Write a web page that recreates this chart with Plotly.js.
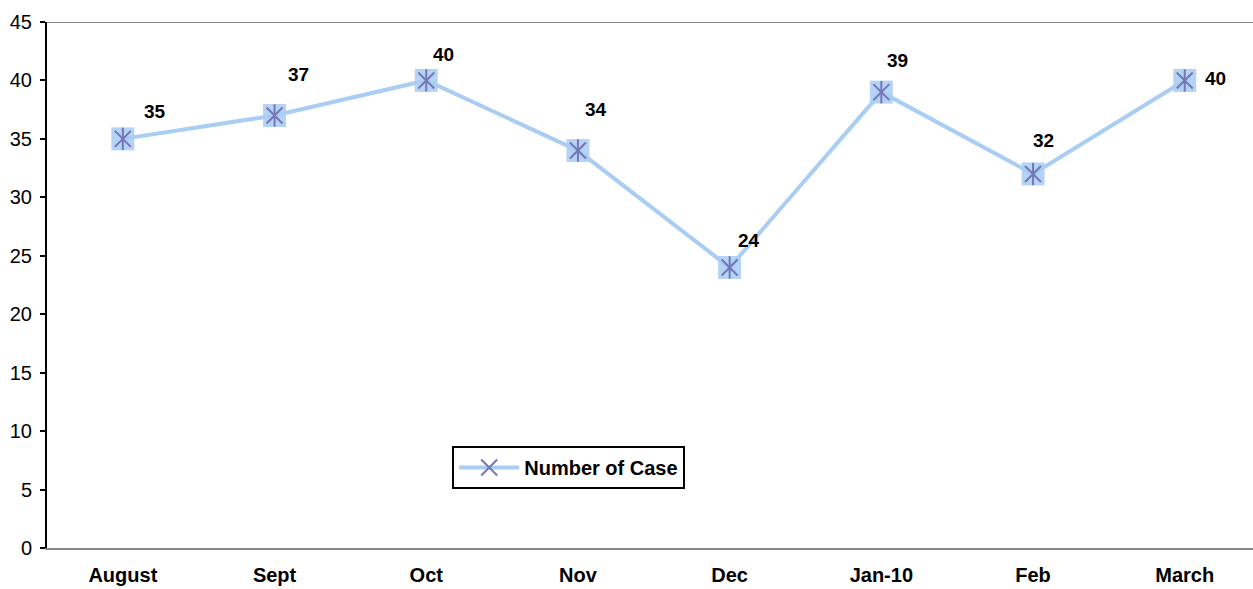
<!DOCTYPE html>
<html>
<head>
<meta charset="utf-8">
<script src="https://cdn.plot.ly/plotly-3.0.1.min.js"></script>
<style>html,body{margin:0;padding:0;background:#fff;}#chart{width:1253px;height:589px;}</style>
</head>
<body>
<div id="chart"></div>
<script>
const months = ["August", "Sept", "Oct", "Nov", "Dec", "Jan-10", "Feb", "March"];
const cases = [35, 37, 40, 34, 24, 39, 32, 40];
const seriesName = "Number of Case";
const yTicks = [0, 5, 10, 15, 20, 25, 30, 35, 40, 45];
// label pixel offsets (style only)
const labelDx = [32, 24, 17, 18, 19, 16, 10, 31];
const labelDy = [-27, -41, -26, -41, -27, -32, -33, -2];

const lineColor = "#a9cdf3";
const starColor = "#7576b8";
const fontFam = "Liberation Sans, Arial, sans-serif";

const squares = {
  x: months, y: cases, type: "scatter", mode: "markers",
  marker: {symbol: "square", size: 23, color: "#b5d4f5"},
  showlegend: false, hoverinfo: "skip"
};
const main = {
  x: months, y: cases, type: "scatter", mode: "lines+markers", name: seriesName,
  line: {color: lineColor, width: 4},
  marker: {symbol: "x-thin-open", size: 16, color: starColor, line: {color: starColor, width: 2}}
};
const vbar = {
  x: months, y: cases, type: "scatter", mode: "markers",
  marker: {symbol: "line-ns-open", size: 16, color: starColor, line: {color: starColor, width: 2}},
  showlegend: false, hoverinfo: "skip"
};

const annotations = months.map((m, i) => ({
  x: m, y: cases[i], xref: "x", yref: "y",
  text: String(cases[i]), showarrow: true, arrowcolor: "rgba(0,0,0,0)",
  ax: labelDx[i], ay: labelDy[i],
  font: {family: fontFam, size: 19, color: "#000", weight: "bold"}
}));

const layout = {
  width: 1253, height: 589,
  margin: {l: 47, r: 0, t: 22, b: 41},
  paper_bgcolor: "#fff", plot_bgcolor: "#fff",
  font: {family: fontFam, size: 20, color: "#000"},
  xaxis: {
    type: "category", range: [-0.5, 7.45],
    showgrid: false, zeroline: false,
    showline: true, linecolor: "#888", linewidth: 2,
    mirror: false, ticks: "", ticklabelstandoff: 8,
    tickfont: {family: fontFam, size: 20, color: "#000", weight: "bold"}
  },
  yaxis: {
    range: [0, 45], tickvals: yTicks, ticktext: yTicks.map(String),
    showgrid: false, zeroline: false,
    showline: true, linecolor: "#000", linewidth: 2,
    ticks: "outside", ticklen: 5, tickcolor: "#000", tickwidth: 2,
    ticklabelstandoff: 4,
    tickfont: {family: fontFam, size: 20, color: "#000"}
  },
  shapes: [{type: "line", xref: "paper", yref: "y", x0: 0, x1: 1, y0: 45, y1: 45,
    line: {color: "#888", width: 2}}],
  legend: {
    x: 0.336, y: 0.194, xanchor: "left", yanchor: "top",
    bgcolor: "#fff", bordercolor: "#000", borderwidth: 2,
    itemwidth: 60,
    font: {family: fontFam, size: 20, color: "#000", weight: "bold"}
  },
  showlegend: true,
  annotations: annotations
};

Plotly.newPlot("chart", [squares, main, vbar], layout, {displayModeBar: false, staticPlot: true});
</script>
</body>
</html>
